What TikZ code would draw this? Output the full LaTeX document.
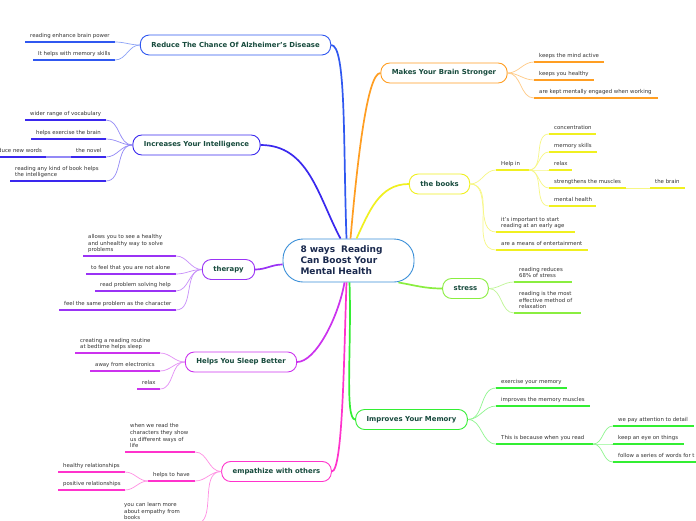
\documentclass[tikz,border=0pt]{standalone}
\usepackage{fontspec}
\setmainfont{DejaVu Sans}
\usepackage{xcolor}
\usepackage{tikz}

\definecolor{rootblue}{HTML}{3A8FD8}
\definecolor{roottext}{HTML}{1B2A4E}
\definecolor{topictext}{HTML}{164A3C}
\definecolor{leaftext}{HTML}{333333}
\definecolor{alzblue}{HTML}{3058F0}
\definecolor{intblue}{HTML}{3A28EE}
\definecolor{brorange}{HTML}{FF9E22}
\definecolor{bkyellow}{HTML}{F0F020}
\definecolor{thrpurple}{HTML}{9A33F5}
\definecolor{strlime}{HTML}{8AEE40}
\definecolor{slpviolet}{HTML}{CC33EE}
\definecolor{memgreen}{HTML}{33EE33}
\definecolor{emppink}{HTML}{FF33CC}

\begin{document}
\begin{tikzpicture}[x=1pt, y=-1pt,
    root/.style={draw=rootblue, line width=0.9pt, fill=white, rounded corners=20pt,
      minimum width=131pt, minimum height=43pt, text width=96pt, align=left,
      font=\bfseries\fontsize{9}{11}\selectfont, text=roottext},
    topic/.style={draw=#1, line width=0.9pt, fill=white, rounded corners=9pt,
      minimum height=20pt, inner xsep=11pt,
      font=\bfseries\fontsize{6.9}{8}\selectfont, text=topictext},
    leaf/.style={font=\fontsize{5.4}{6.8}\selectfont, text=leaftext, align=left,
      anchor=south west, inner xsep=5pt, inner ysep=2.6pt, text depth=1.4pt},
    ul/.style={draw=#1, line width=1.6pt},
    lk/.style={draw=#1!55, line width=0.7pt},
    branch/.style={draw=#1, line width=1.7pt}]
  \useasboundingbox[fill=white] (0,0) rectangle (696,520);

  % root and main topics
  \node[root] (c) at (348.5,260.5) {8 ways~ Reading\\Can Boost Your\\Mental Health};
  \node[topic=alzblue] (alz) at (235.5,45) {Reduce The Chance Of Alzheimer's Disease};
  \node[topic=brorange] (mk) at (444,73) {Makes Your Brain Stronger};
  \node[topic=intblue] (intl) at (196.5,145) {Increases Your Intelligence};
  \node[topic=bkyellow] (bk) at (439.5,184) {the books};
  \node[topic=thrpurple] (thr) at (228.5,269.5) {therapy};
  \node[topic=strlime] (str) at (465.5,288.5) {stress};
  \node[topic=slpviolet] (slp) at (241,362) {Helps You Sleep Better};
  \node[topic=memgreen] (mem) at (411.5,419.5) {Improves Your Memory};
  \node[topic=emppink] (emp) at (276.5,471.5) {empathize with others};

  % branches from the root
  \draw[branch=alzblue] ([xshift=-2pt]c.north) to[out=92,in=0,out looseness=1.3,in looseness=.2] (alz.east);
  \draw[branch=brorange] ([xshift=2pt]c.north) to[out=85,in=180,out looseness=1.2,in looseness=.2] (mk.west);
  \draw[branch=intblue] ([xshift=-8pt]c.north) to[out=118,in=0] (intl.east);
  \draw[branch=bkyellow] ([xshift=8pt]c.north) to[out=65,in=180] (bk.west);
  \draw[branch=thrpurple] ([yshift=-4pt]c.west) to[out=180,in=0] (thr.east);
  \draw[branch=strlime] ([xshift=-16pt]c.south east) to[out=-10,in=180] (str.west);
  \draw[branch=slpviolet] ([xshift=-4pt]c.south) to[out=-100,in=0,in looseness=.5] (slp.east);
  \draw[branch=memgreen] ([xshift=1pt]c.south) to[out=-88,in=180,out looseness=1.2,in looseness=.2] (mem.west);
  \draw[branch=emppink] ([xshift=-2pt]c.south) to[out=-92,in=0,in looseness=.15] (emp.east);

  % left side leaves
  \foreach \n/\x/\y/\w/\txt in {al1/25/42/90/{reading enhance brain power},
      al2/33/60/82/{It helps with memory skills}} {
    \node[leaf] (\n) at (\x,\y) {\txt};
    \coordinate (\n-e) at ([xshift=\w pt]\n.south west);
    \draw[ul=alzblue] (\n.south west) -- (\n-e);
    \draw[lk=alzblue] (alz.west) to[out=180,in=0] (\n-e);
  }
  \foreach \n/\x/\y/\w/\txt in {in1/25/120/81/{wider range of vocabulary},
      in2/31/139/75/{helps exercise the brain}, in3/71/157/35/{the novel},
      in4/10/181/96/{reading any kind of book helps\\the intelligence}} {
    \node[leaf] (\n) at (\x,\y) {\txt};
    \coordinate (\n-e) at ([xshift=\w pt]\n.south west);
    \draw[ul=intblue] (\n.south west) -- (\n-e);
    \draw[lk=intblue] (intl.west) to[out=180,in=0] (\n-e);
  }
  \node[leaf] (in5) at (-19.5,157) {introduce new words};
  \coordinate (in5-e) at ([xshift=65.5pt]in5.south west);
  \draw[ul=intblue] (in5.south west) -- (in5-e);
  \draw[lk=intblue, line width=1.6pt] (in3.south west) -- (in5-e);

  \foreach \n/\x/\y/\w/\txt in {th1/83/256/93/{allows you to see a healthy\\and unhealthy way to solve\\problems},
      th2/86/274/90/{to feel that you are not alone}, th3/95/291/81/{read problem solving help},
      th4/59/310/117/{feel the same problem as the character}} {
    \node[leaf] (\n) at (\x,\y) {\txt};
    \coordinate (\n-e) at ([xshift=\w pt]\n.south west);
    \draw[ul=thrpurple] (\n.south west) -- (\n-e);
    \draw[lk=thrpurple] (thr.west) to[out=180,in=0] (\n-e);
  }
  \foreach \n/\x/\y/\w/\txt in {sl1/75/353/85/{creating a reading routine\\at bedtime helps sleep},
      sl2/90/371/70/{away from electronics}, sl3/137/389/23/{relax}} {
    \node[leaf] (\n) at (\x,\y) {\txt};
    \coordinate (\n-e) at ([xshift=\w pt]\n.south west);
    \draw[ul=slpviolet] (\n.south west) -- (\n-e);
    \draw[lk=slpviolet] (slp.west) to[out=180,in=0] (\n-e);
  }
  \foreach \n/\x/\y/\w/\txt in {em1/125/452/70/{when we read the\\characters they show\\us different ways of\\life},
      em2/148/481/47/{helps to have}, em3/119/524/76/{you can learn more\\about empathy from\\books}} {
    \node[leaf] (\n) at (\x,\y) {\txt};
    \coordinate (\n-e) at ([xshift=\w pt]\n.south west);
    \draw[ul=emppink] (\n.south west) -- (\n-e);
    \draw[lk=emppink] (emp.west) to[out=180,in=0] (\n-e);
  }
  \foreach \n/\y/\txt in {hr1/472/{healthy relationships}, hr2/490/{positive relationships}} {
    \node[leaf] (\n) at (58,\y) {\txt};
    \coordinate (\n-e) at ([xshift=67pt]\n.south west);
    \draw[ul=emppink] (\n.south west) -- (\n-e);
    \draw[lk=emppink] (em2.south west) to[out=180,in=0] (\n-e);
  }

  % right side leaves
  \foreach \n/\y/\w/\txt in {mk1/62/70/{keeps the mind active}, mk2/80/60/{keeps you healthy},
      mk3/98/124/{are kept mentally engaged when working}} {
    \node[leaf] (\n) at (534,\y) {\txt};
    \coordinate (\n-e) at ([xshift=\w pt]\n.south west);
    \draw[ul=brorange] (\n.south west) -- (\n-e);
    \draw[lk=brorange] (mk.east) to[out=0,in=180] (\n.south west);
  }
  \foreach \n/\y/\w/\txt in {bk1/170/33/{Help in},
      bk2/232/79/{it's important to start\\reading at an early age},
      bk3/250/92/{are a means of entertainment}} {
    \node[leaf] (\n) at (496,\y) {\txt};
    \coordinate (\n-e) at ([xshift=\w pt]\n.south west);
    \draw[ul=bkyellow] (\n.south west) -- (\n-e);
    \draw[lk=bkyellow] (bk.east) to[out=0,in=180] (\n.south west);
  }
  \foreach \n/\y/\w/\txt in {hp1/134/47/{concentration}, hp2/152/48/{memory skills},
      hp3/170/23/{relax}, hp4/188/77/{strengthens the muscles}, hp5/206/47/{mental health}} {
    \node[leaf] (\n) at (549,\y) {\txt};
    \coordinate (\n-e) at ([xshift=\w pt]\n.south west);
    \draw[ul=bkyellow] (\n.south west) -- (\n-e);
    \draw[lk=bkyellow] (bk1-e) to[out=0,in=180] (\n.south west);
  }
  \node[leaf] (br) at (650,188) {the brain};
  \coordinate (br-e) at ([xshift=35pt]br.south west);
  \draw[ul=bkyellow] (br.south west) -- (br-e);
  \draw[lk=bkyellow] (hp4-e) -- (br.south west);

  \foreach \n/\y/\w/\txt in {st1/282/58/{reading reduces\\68\% of stress},
      st2/313/67/{reading is the most\\effective method of\\relaxation}} {
    \node[leaf] (\n) at (514,\y) {\txt};
    \coordinate (\n-e) at ([xshift=\w pt]\n.south west);
    \draw[ul=strlime] (\n.south west) -- (\n-e);
    \draw[lk=strlime] (str.east) to[out=0,in=180] (\n.south west);
  }
  \foreach \n/\y/\w/\txt in {me1/388/71/{exercise your memory}, me2/406/94/{improves the memory muscles},
      me3/444/97/{This is because when you read}} {
    \node[leaf] (\n) at (496,\y) {\txt};
    \coordinate (\n-e) at ([xshift=\w pt]\n.south west);
    \draw[ul=memgreen] (\n.south west) -- (\n-e);
    \draw[lk=memgreen] (mem.east) to[out=0,in=180] (\n.south west);
  }
  \foreach \n/\y/\w/\txt in {me4/426/81/{we pay attention to detail}, me5/444/71/{keep an eye on things},
      me6/462/90/{follow a series of words for t}} {
    \node[leaf] (\n) at (613,\y) {\txt};
    \coordinate (\n-e) at ([xshift=\w pt]\n.south west);
    \draw[ul=memgreen] (\n.south west) -- (\n-e);
    \draw[lk=memgreen] (me3-e) to[out=0,in=180] (\n.south west);
  }
\end{tikzpicture}
\end{document}
